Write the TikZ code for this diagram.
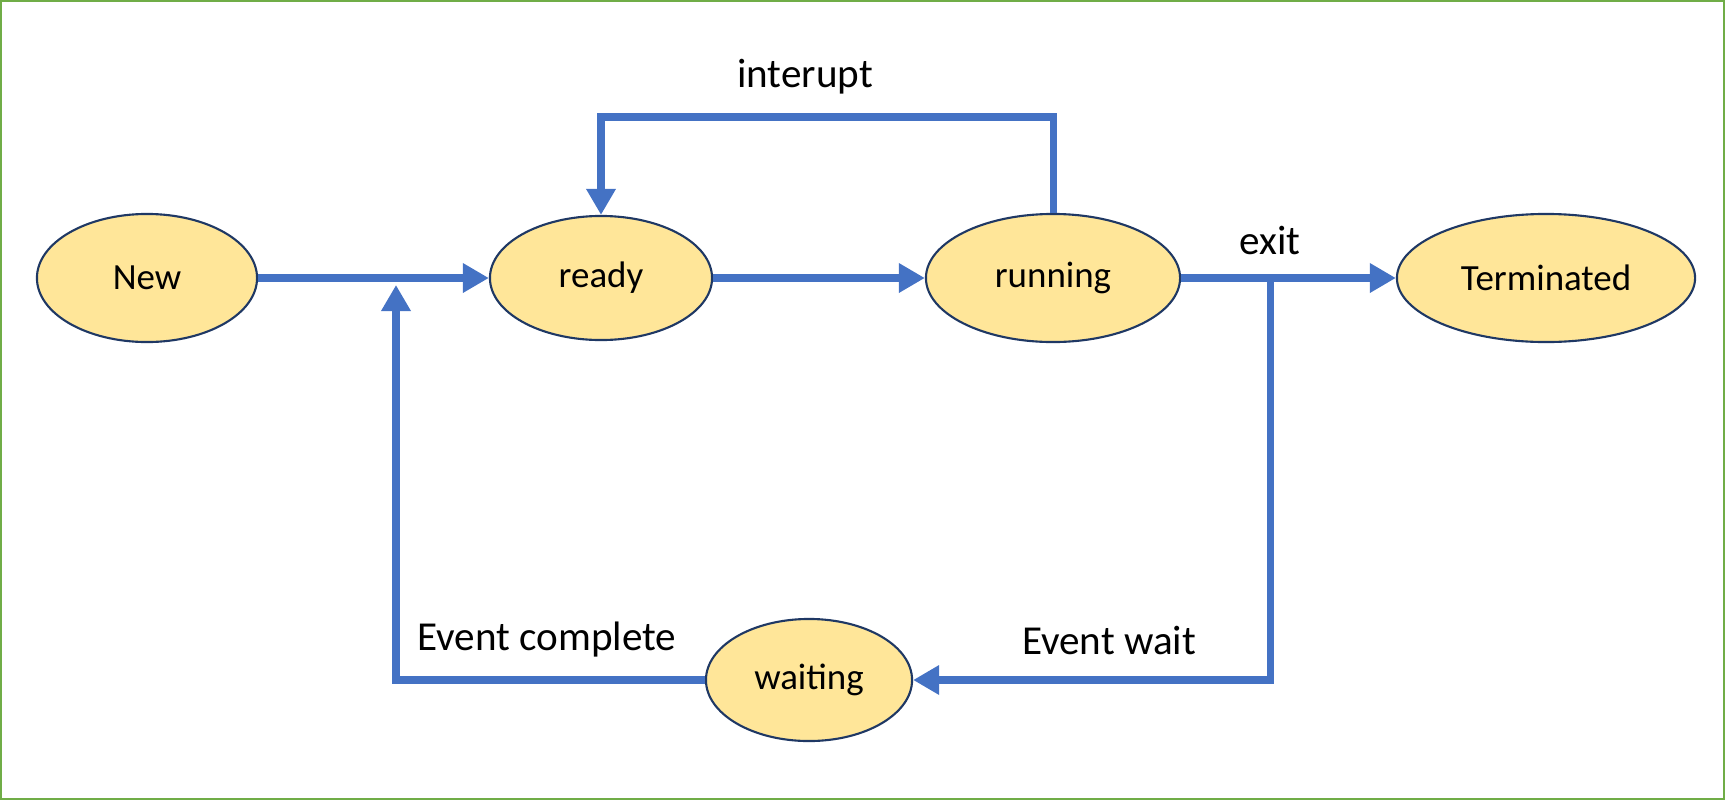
\documentclass[tikz,border=0pt]{standalone}
\usepackage{fontspec}
\setmainfont{Carlito}
\usetikzlibrary{shapes.geometric}
\usetikzlibrary{arrows.meta}
\definecolor{flowblue}{HTML}{4472C4}
\definecolor{stategold}{HTML}{FFE699}
\definecolor{stateedge}{HTML}{1F3864}
\definecolor{framegreen}{HTML}{70AD47}
\tikzset{state/.style={ellipse, draw=stateedge, fill=stategold, line width=0.6pt,
  inner sep=0pt, font=\fontsize{10.5}{12}\selectfont},
  flow/.style={draw=flowblue, line width=2pt, -{Triangle[length=2.6mm,width=2.8mm]}},
  lbl/.style={font=\fontsize{11.7}{14}\selectfont}}

\begin{document}
\begin{tikzpicture}[x=0.01cm, y=-0.01cm]
	\useasboundingbox (0,0) rectangle (1725,800);
	\draw[framegreen, line width=0.023cm] (1.15,1.15) rectangle (1723.85,798.85);
	
	\node[state, minimum width=2.2cm, minimum height=1.28cm] (new) at (147,278) {New};
	\node[state, minimum width=2.22cm, minimum height=1.24cm] (ready) at (601,278) {ready};
	\node[state, minimum width=2.54cm, minimum height=1.28cm] (running) at (1053,278) {running};
	\node[state, minimum width=2.98cm, minimum height=1.28cm] (terminated) at (1546,278) {Terminated};
	\node[state, minimum width=2.06cm, minimum height=1.22cm] (waiting) at (809,680) {waiting};
	
	\coordinate (loop top) at (0,117);
	\coordinate (split) at (1270,278);
	\coordinate (join) at (396,285);
	
	\draw[flow] (new) -- (ready);
	\draw[flow] (ready) -- (running);
	\draw[flow] (running) -- (terminated);
	\draw[flow] (running.north) |- (ready.north |- loop top) -- (ready.north);
	\draw[flow] (split) |- (waiting.east);
	\draw[flow] (waiting.west) -| (join);
	
	\node[lbl] (interupt) at (805,77) {interupt};
	\node[lbl] (exit) at (1270,240) {exit};
	\node[lbl] (complete) at (547,640) {Event complete};
	\node[lbl] (wait) at (1109,640) {Event wait};
\end{tikzpicture}
\end{document}
